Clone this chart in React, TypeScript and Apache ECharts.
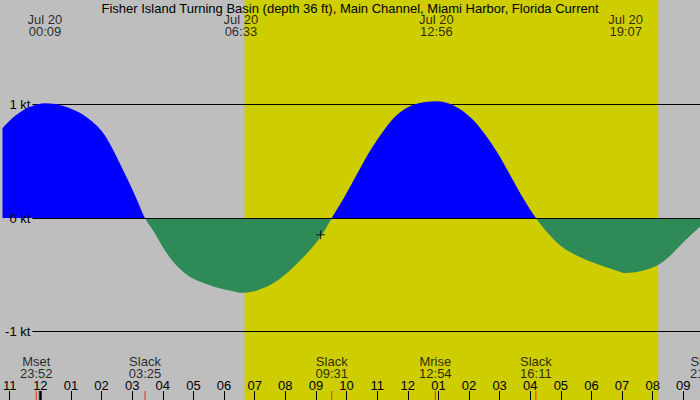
import { useEffect, useRef } from "react";
import * as echarts from "echarts";

const TITLE =
  "Fisher Island Turning Basin (depth 36 ft), Main Channel, Miami Harbor, Florida Current";

// current speed curve: hours after midnight Jul 20, knots (+ flood, - ebb)
const curveHours = [
  -1.237, -0.911, -0.586, -0.26, 0.15, 0.716, 1.27, 1.69, 2.02, 2.34, 2.67, 2.99, 3.22, 3.417,
  3.75, 4.08, 4.4, 4.84, 5.27, 5.82, 6.36, 6.55, 7.12, 7.66, 8.2, 8.74, 9.18, 9.517,
  9.94, 10.37, 10.8, 11.24, 11.67, 12.21, 12.933, 13.51, 14.06, 14.49, 14.93, 15.36, 15.79, 16.183,
  16.55, 16.99, 17.53, 18.18, 18.83, 19.117, 19.59, 20.13, 20.57, 21.0, 21.545,
];
const curveKnots = [
  0.79, 0.88, 0.945, 0.987, 1.01, 0.99, 0.93, 0.85, 0.76, 0.62, 0.44, 0.26, 0.12, 0,
  -0.14, -0.29, -0.405, -0.51, -0.567, -0.617, -0.649, -0.658, -0.634, -0.567, -0.449, -0.302, -0.156, 0,
  0.19, 0.4, 0.605, 0.78, 0.914, 1.0, 1.028, 0.99, 0.884, 0.75, 0.575, 0.37, 0.165, 0,
  -0.126, -0.244, -0.332, -0.405, -0.464, -0.485, -0.47, -0.42, -0.332, -0.214, -0.077,
];

const hourTicks = [-1, 0, 1, 2, 3, 4, 5, 6, 7, 8, 9, 10, 11, 12, 13, 14, 15, 16, 17, 18, 19, 20, 21];
const hourTickLabels = [
  "11", "12", "01", "02", "03", "04", "05", "06", "07", "08", "09", "10",
  "11", "12", "01", "02", "03", "04", "05", "06", "07", "08", "09",
];

const extremeHours = [0.15, 6.55, 12.933, 19.117];
const extremeDates = ["Jul 20", "Jul 20", "Jul 20", "Jul 20"];
const extremeTimes = ["00:09", "06:33", "12:56", "19:07"];

const eventHours = [-0.133, 3.417, 9.517, 12.9, 16.183, 21.75];
const eventNames = ["Mset", "Slack", "Slack", "Mrise", "Slack", "Slack"];
const eventTimes = ["23:52", "03:25", "09:31", "12:54", "16:11", "21:45"];

const sunriseHour = 6.67;
const sunsetHour = 20.18;
const dayBoundaryHours = [0];
const nowHour = 9.155;
const nowKnots = -0.147;

const levelValues = [1, 0, -1];
const levelLabels = ["1 kt", "0 kt", "-1 kt"];

// layout (pixels)
const W = 700;
const H = 400;
const ZERO_Y = 218;
const PX_PER_KT = 113.5;
const ZERO_X = 38;
const PX_PER_HOUR = 676 / 22;
const FONT = "Liberation Sans";
const FS = 13;
const FLOOD = "#0000ff";
const EBB = "#2e8b57";

const xMin = -ZERO_X / PX_PER_HOUR;
const xMax = (W - ZERO_X) / PX_PER_HOUR;
const yMax = ZERO_Y / PX_PER_KT;
const yMin = -(H - ZERO_Y) / PX_PER_KT;
const yAtPx = (py: number) => (ZERO_Y - py) / PX_PER_KT;
const lineStartHour = (30 - ZERO_X) / PX_PER_HOUR;

export default function App() {
  const ref = useRef<HTMLDivElement>(null);
  useEffect(() => {
    if (!ref.current) return;
    const chart = echarts.init(ref.current, undefined, { renderer: "svg" });
    const levelLine = (i: number) => [
      { coord: [lineStartHour, levelValues[i]], name: levelLabels[i] },
      { coord: [xMax, levelValues[i]] },
    ];
    const markLabel = {
      show: true,
      position: "start",
      formatter: "{b}",
      color: "#000",
      fontSize: FS,
      fontFamily: FONT,
      distance: 2,
    };
    const hidden = {
      type: "line",
      data: [[xMin, 0]],
      showSymbol: false,
      symbol: "none",
      lineStyle: { width: 0, opacity: 0 },
      silent: true,
    };
    const transparent = { color: "rgba(0,0,0,0)" };
    const zeroOffset = ZERO_Y / H;
    const areaFill = {
      type: "linear",
      x: 0,
      y: 0,
      x2: 0,
      y2: H,
      global: true,
      colorStops: [
        { offset: 0, color: FLOOD },
        { offset: zeroOffset, color: FLOOD },
        { offset: zeroOffset, color: EBB },
        { offset: 1, color: EBB },
      ],
    };
    const textLabel = {
      show: true,
      position: "inside",
      color: "#000",
      fontSize: FS,
      lineHeight: 12,
      fontFamily: FONT,
    };
    chart.setOption({
      animation: false,
      backgroundColor: "#bebebe",
      textStyle: { fontFamily: FONT },
      title: {
        text: TITLE,
        left: "center",
        top: -3,
        textStyle: { fontSize: FS, fontWeight: "normal", color: "#000", fontFamily: FONT },
      },
      grid: { left: 0, right: 0, top: 0, bottom: 0, containLabel: false },
      xAxis: {
        type: "value",
        position: "bottom",
        min: xMin,
        max: xMax,
        z: 5,
        axisLine: { show: false, onZero: false },
        splitLine: { show: false },
        axisTick: {
          show: true,
          inside: true,
          length: 9,
          customValues: hourTicks,
          lineStyle: { color: "#000", width: 1 },
        },
        axisLabel: {
          show: true,
          inside: true,
          margin: 15,
          customValues: hourTicks,
          verticalAlign: "middle",
          color: "#000",
          fontSize: FS,
          fontFamily: FONT,
          formatter: (v: number) => hourTickLabels[hourTicks.indexOf(Math.round(v))] ?? "",
        },
      },
      yAxis: { type: "value", min: yMin, max: yMax, show: false, splitLine: { show: false } },
      series: [
        {
          ...hidden,
          z: 0,
          markArea: {
            silent: true,
            z: 0,
            label: { show: false },
            itemStyle: { color: "#cdcd00", opacity: 1, borderWidth: 0 },
            data: [[{ xAxis: sunriseHour }, { xAxis: sunsetHour }]],
          },
          markLine: {
            silent: true,
            z: 1,
            symbol: ["none", "none"],
            lineStyle: { color: "#000", width: 1, type: "solid" },
            label: markLabel,
            data: [levelLine(0), levelLine(2)],
          },
        },
        {
          type: "line",
          z: 2,
          data: curveHours.map((h, i) => [h, curveKnots[i]]),
          smooth: 0.35,
          showSymbol: false,
          symbol: "none",
          lineStyle: { width: 0 },
          areaStyle: { opacity: 1, origin: 0, color: areaFill },
          silent: true,
        },
        {
          ...hidden,
          z: 3,
          markLine: {
            silent: true,
            z: 3,
            symbol: ["none", "none"],
            lineStyle: { color: "#000", width: 1, type: "solid" },
            label: markLabel,
            data: [levelLine(1)],
          },
        },
        {
          type: "scatter",
          z: 4,
          silent: true,
          symbolSize: 1,
          itemStyle: transparent,
          data: extremeHours.map((h) => [h, yAtPx(25.5)]),
          label: {
            ...textLabel,
            formatter: (p: any) => `${extremeDates[p.dataIndex]}\n${extremeTimes[p.dataIndex]}`,
          },
        },
        {
          type: "scatter",
          z: 4,
          silent: true,
          clip: false,
          symbolSize: 1,
          itemStyle: transparent,
          data: eventHours.map((h) => [h, yAtPx(367.5)]),
          label: {
            ...textLabel,
            formatter: (p: any) => `${eventNames[p.dataIndex]}\n${eventTimes[p.dataIndex]}`,
          },
        },
        {
          type: "scatter",
          z: 6,
          silent: true,
          symbol: "rect",
          symbolSize: [1, 9],
          itemStyle: { color: "#ff0000" },
          data: eventHours.map((h) => [h, yAtPx(395.5)]),
        },
        {
          type: "scatter",
          z: 6,
          silent: true,
          symbol: "rect",
          symbolSize: [3, 9],
          itemStyle: { color: "#000" },
          data: dayBoundaryHours.map((h) => [h, yAtPx(395.5)]),
        },
        {
          type: "scatter",
          z: 6,
          silent: true,
          symbol: "path://M0,4h9v1h-9zM4,0h1v9h-1z",
          symbolSize: 9,
          itemStyle: { color: "#000" },
          data: [[nowHour, nowKnots]],
        },
      ],
    });
    return () => chart.dispose();
  }, []);
  return (
    <div
      ref={ref}
      style={{ position: "fixed", left: 0, top: 0, width: W, height: H }}
    />
  );
}
